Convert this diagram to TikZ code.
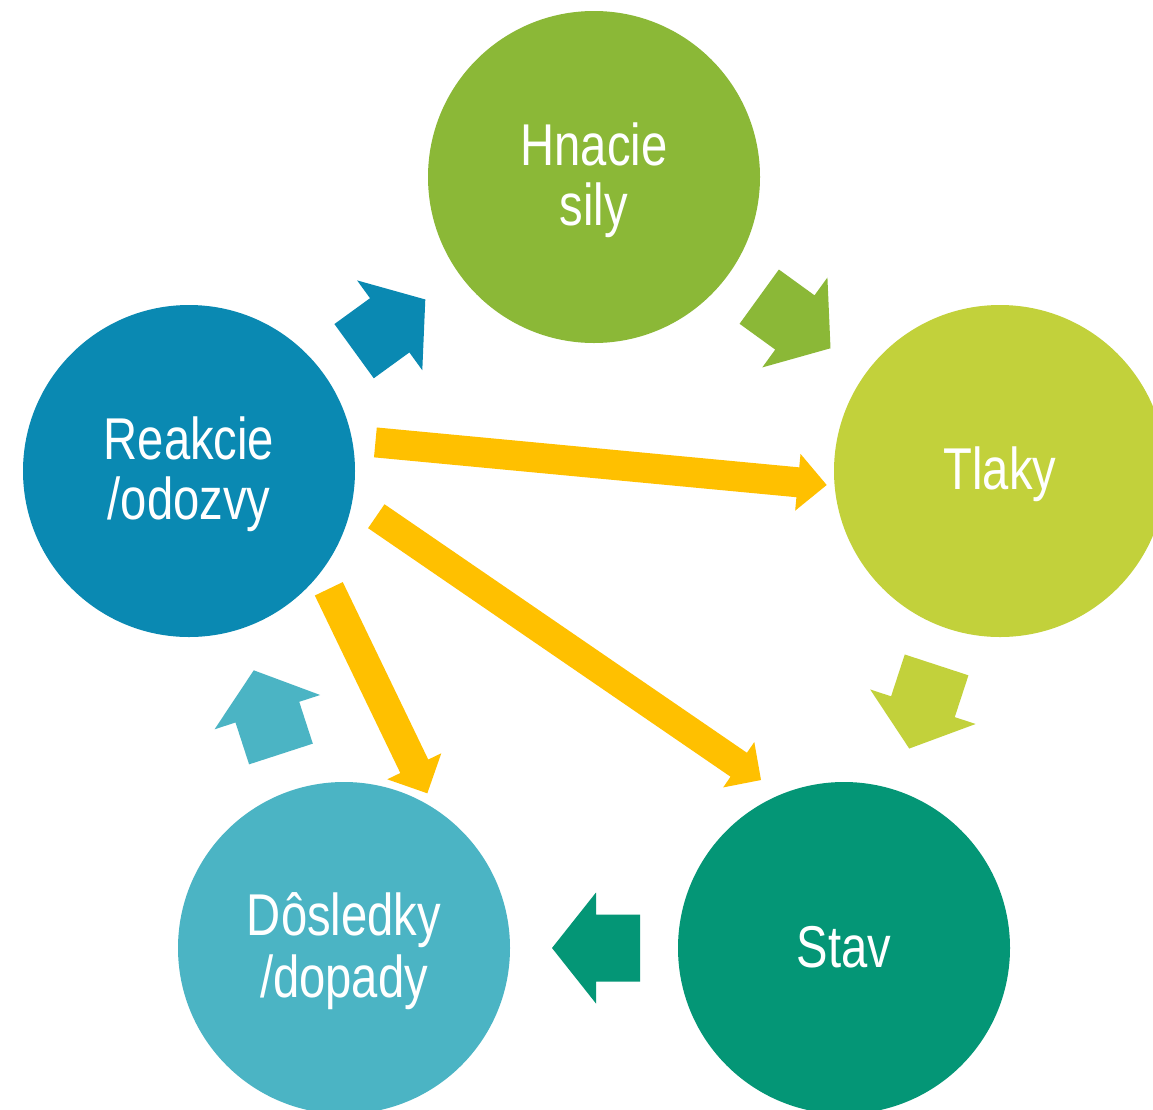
\documentclass[tikz,border=0pt]{standalone}
\usepackage{fontspec}
\setmainfont{Liberation Sans}
\newfontfamily\narrowfont{Liberation Sans}[FakeStretch=0.8]
\usetikzlibrary{calc}
\definecolor{cHna}{HTML}{8BB837}
\definecolor{cTla}{HTML}{C2D13B}
\definecolor{cSta}{HTML}{049676}
\definecolor{cDos}{HTML}{4BB4C4}
\definecolor{cRea}{HTML}{0A89B2}
\definecolor{cYel}{HTML}{FFC000}
\newcommand{\tstrut}{\rule[-11pt]{0pt}{60pt}}
\tikzset{
  circ/.style={circle, minimum size=332pt, inner sep=0pt, fill=#1, text=white,
    font=\narrowfont\fontsize{59}{60}\selectfont, align=center},
}
% #1 prefix, #2 start, #3 tip, #4 half shaft, #5 half head, #6 head length, #7 colour
\newcommand{\blockarrow}[7]{%
  \coordinate (#1hb) at ($(#3)!#6!(#2)$);
  \fill[#7] ($(#2)!#4!90:(#3)$) -- ($(#1hb)!#4!90:(#3)$) -- ($(#1hb)!#5!90:(#3)$)
    -- (#3) -- ($(#1hb)!#5!-90:(#3)$) -- ($(#1hb)!#4!-90:(#3)$)
    -- ($(#2)!#4!-90:(#3)$) -- cycle;
}
\begin{document}
\begin{tikzpicture}[x=1pt,y=-1pt]
\useasboundingbox (0,0) rectangle (1153,1109);
\clip (0,0) rectangle (1153,1109);
\fill[white] (0,0) rectangle (1153,1109);
% circles
\node[circ=cHna] (hna) at (594,177) {Hnacie\tstrut\\sily\tstrut};
\node[circ=cTla] (tla) at (1000,471) {Tlaky\tstrut};
\node[circ=cSta] (sta) at (844,948) {Stav\tstrut};
\node[circ=cDos] (dos) at (344,948) {Dôsledky\tstrut\\/dopady\tstrut};
\node[circ=cRea] (rea) at (189,471) {Reakcie\tstrut\\/odozvy\tstrut};
% cycle arrows
\coordinate (aS) at ($(rea.center)!204pt!(hna.center)$);
\coordinate (aT) at ($(rea.center)!292pt!(hna.center)$);
\coordinate (bS) at ($(hna.center)!204pt!(tla.center)$);
\coordinate (bT) at ($(hna.center)!292pt!(tla.center)$);
\coordinate (cS) at ($(tla.center)!204pt!(sta.center)$);
\coordinate (cT) at ($(tla.center)!292pt!(sta.center)$);
\coordinate (dS) at ($(sta.center)!204pt!(dos.center)$);
\coordinate (dT) at ($(sta.center)!292pt!(dos.center)$);
\coordinate (eS) at ($(dos.center)!204pt!(rea.center)$);
\coordinate (eT) at ($(dos.center)!292pt!(rea.center)$);
\blockarrow{a}{aS}{aT}{33.5pt}{55.5pt}{44pt}{cRea}
\blockarrow{b}{bS}{bT}{33.5pt}{55.5pt}{44pt}{cHna}
\blockarrow{c}{cS}{cT}{33.5pt}{55.5pt}{44pt}{cTla}
\blockarrow{d}{dS}{dT}{33.5pt}{55.5pt}{44pt}{cSta}
\blockarrow{e}{eS}{eT}{33.5pt}{55.5pt}{44pt}{cDos}
% yellow arrows
\coordinate (y1S) at (375.4,442.4);
\coordinate (y1T) at (826.7,485);
\coordinate (y2S) at (376.3,516.2);
\coordinate (y2T) at (761,780);
\coordinate (y3S) at (328.8,588.8);
\coordinate (y3T) at (427.3,793.3);
\blockarrow{ya}{y1S}{y1T}{15pt}{28.5pt}{29pt}{cYel}
\blockarrow{yb}{y2S}{y2T}{14.5pt}{27.5pt}{27pt}{cYel}
\blockarrow{yc}{y3S}{y3T}{15.5pt}{30pt}{30pt}{cYel}
\end{tikzpicture}
\end{document}
